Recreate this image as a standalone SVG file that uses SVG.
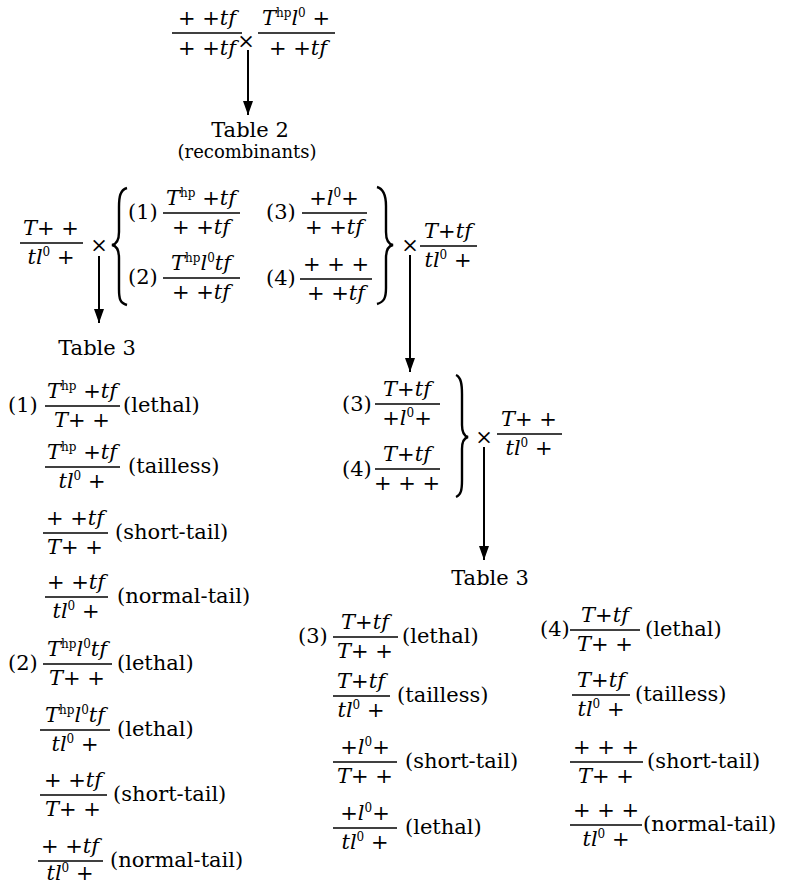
<svg xmlns="http://www.w3.org/2000/svg" width="787" height="886" viewBox="0 0 787 886">
<style>
text { font-family: "DejaVu Serif", "Liberation Serif", serif; font-size: 21px; fill: #000; }
.c { text-anchor: middle; }
.i { font-style: italic; }
.s { font-size: 12px; font-style: normal; }
.sm { font-size: 18px; }
.bar { stroke: #000; stroke-width: 1.6; }
.arr { stroke: #000; stroke-width: 2; marker-end: url(#ah); }
.br { fill: none; stroke: #000; stroke-width: 2.4; }
</style>
<defs>
<marker id="ah" markerUnits="userSpaceOnUse" markerWidth="14" markerHeight="10" refX="14" refY="5" orient="auto">
<path d="M0,0 L14,5 L0,10 z" fill="#000"/>
</marker>
</defs>
<rect width="787" height="886" fill="#fff"/>

<g id="connectors">
<line class="arr" x1="248" y1="50" x2="248" y2="115"/>
<line class="arr" x1="99" y1="256" x2="99" y2="323"/>
<line class="arr" x1="410" y1="255" x2="410" y2="372"/>
<line class="arr" x1="484" y1="447" x2="484" y2="560"/>
</g>

<g id="top-cross">
<text class="c" x="207" y="25">+ +<tspan class="i">tf</tspan></text>
<line class="bar" x1="172" y1="33" x2="242" y2="33"/>
<text class="c" x="207" y="55">+ +<tspan class="i">tf</tspan></text>
<text class="c" x="246" y="48">×</text>
<text class="c" x="296" y="25"><tspan class="i">T</tspan><tspan class="s" dy="-8">hp</tspan><tspan class="i" dy="8">l</tspan><tspan class="s" dy="-8">0</tspan><tspan dy="8"> +</tspan></text>
<line class="bar" x1="258" y1="33" x2="335" y2="33"/>
<text class="c" x="298" y="55">+ +<tspan class="i">tf</tspan></text>
</g>

<g id="table2">
<text class="c" x="250" y="137">Table 2</text>
<text class="c sm" x="247" y="158">(recombinants)</text>
</g>

<g id="second-cross">
<text class="c" x="51" y="235"><tspan class="i">T</tspan>+ +</text>
<line class="bar" x1="20" y1="243" x2="83" y2="243"/>
<text class="c" x="51" y="264"><tspan class="i">tl</tspan><tspan class="s" dy="-8">0</tspan><tspan dy="8"> +</tspan></text>
<text class="c" x="99" y="252">×</text>
<path class="br" d="M127,188 C120,190 119,197 119,207 L119,232 C119,240 117,244 112,245 C117,246 119,250 119,258 L119,289 C119,299 120,303 127,305"/>
<text x="128" y="219">(1)</text>
<text class="c" x="201" y="205"><tspan class="i">T</tspan><tspan class="s" dy="-8">hp</tspan><tspan dy="8"> +</tspan><tspan class="i">tf</tspan></text>
<line class="bar" x1="163" y1="213" x2="240" y2="213"/>
<text class="c" x="201" y="234">+ +<tspan class="i">tf</tspan></text>
<text x="128" y="284">(2)</text>
<text class="c" x="201" y="270"><tspan class="i">T</tspan><tspan class="s" dy="-8">hp</tspan><tspan class="i" dy="8">l</tspan><tspan class="s" dy="-8">0</tspan><tspan class="i" dy="8">tf</tspan></text>
<line class="bar" x1="163" y1="278" x2="240" y2="278"/>
<text class="c" x="201" y="299">+ +<tspan class="i">tf</tspan></text>
<text x="266" y="219">(3)</text>
<text class="c" x="334" y="205">+<tspan class="i">l</tspan><tspan class="s" dy="-8">0</tspan><tspan dy="8">+</tspan></text>
<line class="bar" x1="302" y1="213" x2="367" y2="213"/>
<text class="c" x="334" y="234">+ +<tspan class="i">tf</tspan></text>
<text x="266" y="285">(4)</text>
<text class="c" x="336" y="271">+ + +</text>
<line class="bar" x1="300" y1="279" x2="372" y2="279"/>
<text class="c" x="336" y="300">+ +<tspan class="i">tf</tspan></text>
<path class="br" d="M377,187 C384,189 386,196 386,206 L386,232 C386,240 388,244 393,245 C388,246 386,250 386,258 L386,288 C386,298 384,302 377,304"/>
<text class="c" x="410" y="252">×</text>
<text class="c" x="448" y="238"><tspan class="i">T</tspan>+<tspan class="i">tf</tspan></text>
<line class="bar" x1="420" y1="246" x2="477" y2="246"/>
<text class="c" x="448" y="267"><tspan class="i">tl</tspan><tspan class="s" dy="-8">0</tspan><tspan dy="8"> +</tspan></text>
</g>

<g id="table3-left">
<text class="c" x="97" y="355">Table 3</text>
</g>

<g id="left-results">
<text x="8" y="412">(1)</text>
<text class="c" x="82" y="398"><tspan class="i">T</tspan><tspan class="s" dy="-8">hp</tspan><tspan dy="8"> +</tspan><tspan class="i">tf</tspan></text>
<line class="bar" x1="45" y1="406" x2="120" y2="406"/>
<text class="c" x="82" y="427"><tspan class="i">T</tspan>+ +</text>
<text x="123" y="412">(lethal)</text>

<text class="c" x="82" y="459"><tspan class="i">T</tspan><tspan class="s" dy="-8">hp</tspan><tspan dy="8"> +</tspan><tspan class="i">tf</tspan></text>
<line class="bar" x1="45" y1="467" x2="120" y2="467"/>
<text class="c" x="82" y="488"><tspan class="i">tl</tspan><tspan class="s" dy="-8">0</tspan><tspan dy="8"> +</tspan></text>
<text x="128" y="473">(tailless)</text>

<text class="c" x="75" y="525">+ +<tspan class="i">tf</tspan></text>
<line class="bar" x1="43" y1="533" x2="108" y2="533"/>
<text class="c" x="75" y="554"><tspan class="i">T</tspan>+ +</text>
<text x="115" y="539">(short-tail)</text>

<text class="c" x="76" y="589">+ +<tspan class="i">tf</tspan></text>
<line class="bar" x1="45" y1="597" x2="108" y2="597"/>
<text class="c" x="76" y="618"><tspan class="i">tl</tspan><tspan class="s" dy="-8">0</tspan><tspan dy="8"> +</tspan></text>
<text x="117" y="603">(normal-tail)</text>

<text x="8" y="670">(2)</text>
<text class="c" x="77" y="656"><tspan class="i">T</tspan><tspan class="s" dy="-8">hp</tspan><tspan class="i" dy="8">l</tspan><tspan class="s" dy="-8">0</tspan><tspan class="i" dy="8">tf</tspan></text>
<line class="bar" x1="43" y1="664" x2="112" y2="664"/>
<text class="c" x="77" y="685"><tspan class="i">T</tspan>+ +</text>
<text x="117" y="670">(lethal)</text>

<text class="c" x="75" y="722"><tspan class="i">T</tspan><tspan class="s" dy="-8">hp</tspan><tspan class="i" dy="8">l</tspan><tspan class="s" dy="-8">0</tspan><tspan class="i" dy="8">tf</tspan></text>
<line class="bar" x1="40" y1="730" x2="110" y2="730"/>
<text class="c" x="75" y="751"><tspan class="i">tl</tspan><tspan class="s" dy="-8">0</tspan><tspan dy="8"> +</tspan></text>
<text x="117" y="736">(lethal)</text>

<text class="c" x="73" y="787">+ +<tspan class="i">tf</tspan></text>
<line class="bar" x1="40" y1="795" x2="107" y2="795"/>
<text class="c" x="73" y="816"><tspan class="i">T</tspan>+ +</text>
<text x="113" y="801">(short-tail)</text>

<text class="c" x="70" y="853">+ +<tspan class="i">tf</tspan></text>
<line class="bar" x1="38" y1="861" x2="103" y2="861"/>
<text class="c" x="70" y="880"><tspan class="i">tl</tspan><tspan class="s" dy="-8">0</tspan><tspan dy="8"> +</tspan></text>
<text x="110" y="867">(normal-tail)</text>
</g>

<g id="third-cross">
<text x="342" y="411">(3)</text>
<text class="c" x="407" y="396"><tspan class="i">T</tspan>+<tspan class="i">tf</tspan></text>
<line class="bar" x1="375" y1="404" x2="440" y2="404"/>
<text class="c" x="407" y="425">+<tspan class="i">l</tspan><tspan class="s" dy="-8">0</tspan><tspan dy="8">+</tspan></text>
<text x="342" y="476">(4)</text>
<text class="c" x="407" y="461"><tspan class="i">T</tspan>+<tspan class="i">tf</tspan></text>
<line class="bar" x1="375" y1="469" x2="440" y2="469"/>
<text class="c" x="407" y="490">+ + +</text>
<path class="br" d="M456,375 C461,377 462,384 462,394 L462,425 C462,432 464,436 468,437 C464,438 462,442 462,449 L462,480 C462,490 461,495 456,497"/>
<text class="c" x="484" y="444">×</text>
<text class="c" x="529" y="426"><tspan class="i">T</tspan>+ +</text>
<line class="bar" x1="497" y1="434" x2="562" y2="434"/>
<text class="c" x="529" y="455"><tspan class="i">tl</tspan><tspan class="s" dy="-8">0</tspan><tspan dy="8"> +</tspan></text>
</g>

<g id="table3-right">
<text class="c" x="490" y="585">Table 3</text>
</g>

<g id="middle-results">
<text x="298" y="643">(3)</text>
<text class="c" x="365" y="629"><tspan class="i">T</tspan>+<tspan class="i">tf</tspan></text>
<line class="bar" x1="333" y1="637" x2="398" y2="637"/>
<text class="c" x="365" y="658"><tspan class="i">T</tspan>+ +</text>
<text x="402" y="643">(lethal)</text>

<text class="c" x="361" y="688"><tspan class="i">T</tspan>+<tspan class="i">tf</tspan></text>
<line class="bar" x1="333" y1="696" x2="390" y2="696"/>
<text class="c" x="361" y="717"><tspan class="i">tl</tspan><tspan class="s" dy="-8">0</tspan><tspan dy="8"> +</tspan></text>
<text x="397" y="702">(tailless)</text>

<text class="c" x="365" y="754">+<tspan class="i">l</tspan><tspan class="s" dy="-8">0</tspan><tspan dy="8">+</tspan></text>
<line class="bar" x1="333" y1="762" x2="397" y2="762"/>
<text class="c" x="365" y="783"><tspan class="i">T</tspan>+ +</text>
<text x="405" y="768">(short-tail)</text>

<text class="c" x="365" y="820">+<tspan class="i">l</tspan><tspan class="s" dy="-8">0</tspan><tspan dy="8">+</tspan></text>
<line class="bar" x1="333" y1="828" x2="397" y2="828"/>
<text class="c" x="365" y="849"><tspan class="i">tl</tspan><tspan class="s" dy="-8">0</tspan><tspan dy="8"> +</tspan></text>
<text x="405" y="834">(lethal)</text>
</g>

<g id="right-results">
<text x="540" y="636">(4)</text>
<text class="c" x="605" y="622"><tspan class="i">T</tspan>+<tspan class="i">tf</tspan></text>
<line class="bar" x1="570" y1="630" x2="640" y2="630"/>
<text class="c" x="605" y="651"><tspan class="i">T</tspan>+ +</text>
<text x="645" y="636">(lethal)</text>

<text class="c" x="601" y="687"><tspan class="i">T</tspan>+<tspan class="i">tf</tspan></text>
<line class="bar" x1="572" y1="695" x2="630" y2="695"/>
<text class="c" x="601" y="716"><tspan class="i">tl</tspan><tspan class="s" dy="-8">0</tspan><tspan dy="8"> +</tspan></text>
<text x="635" y="701">(tailless)</text>

<text class="c" x="606" y="754">+ + +</text>
<line class="bar" x1="570" y1="762" x2="643" y2="762"/>
<text class="c" x="606" y="783"><tspan class="i">T</tspan>+ +</text>
<text x="647" y="768">(short-tail)</text>

<text class="c" x="606" y="817">+ + +</text>
<line class="bar" x1="570" y1="825" x2="642" y2="825"/>
<text class="c" x="606" y="846"><tspan class="i">tl</tspan><tspan class="s" dy="-8">0</tspan><tspan dy="8"> +</tspan></text>
<text x="643" y="831">(normal-tail)</text>
</g>
</svg>
